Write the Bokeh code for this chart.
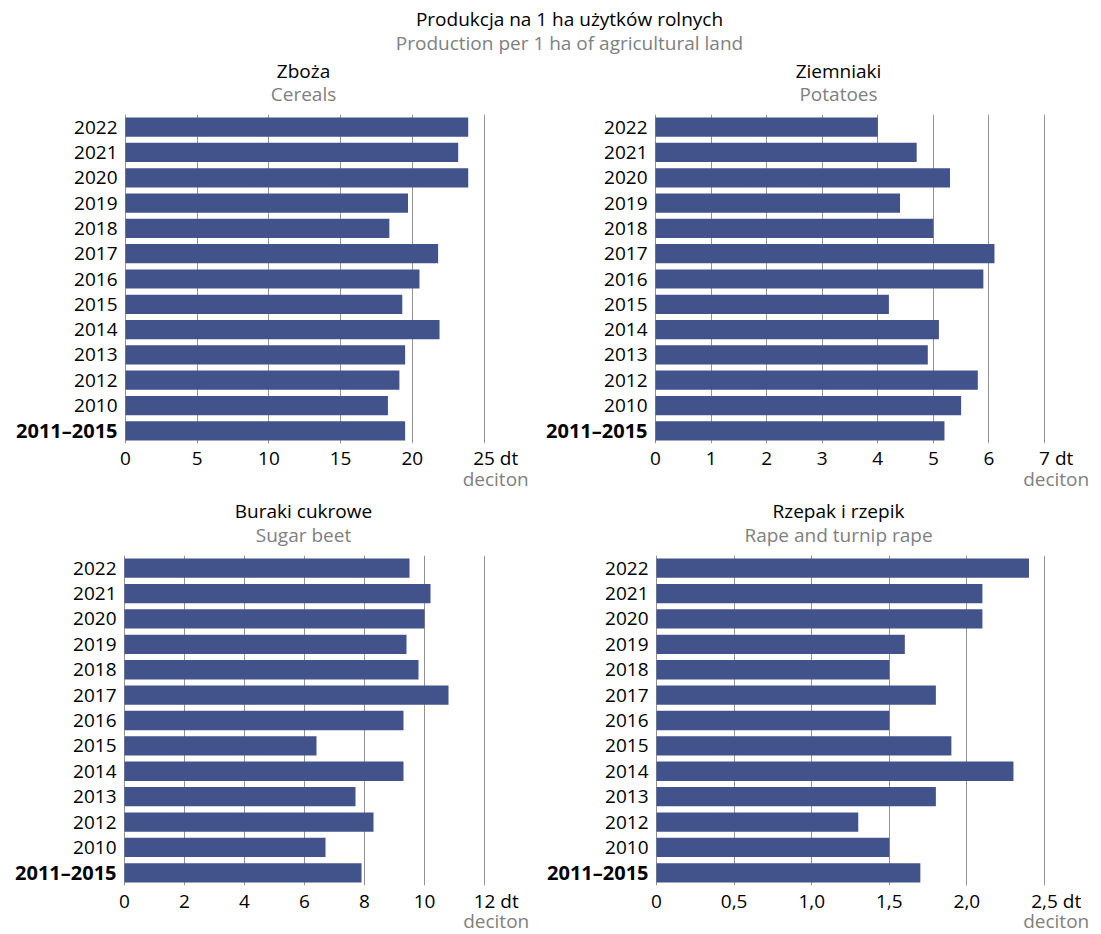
from bokeh.plotting import figure
from bokeh.models import Range1d, FixedTicker, LinearAxis, Grid, ColumnDataSource
from bokeh.core.properties import value
from bokeh.layouts import column, row
from bokeh.embed import file_html
from bokeh.resources import INLINE

# ---------------- data ----------------
categories = ["2022", "2021", "2020", "2019", "2018", "2017", "2016",
              "2015", "2014", "2013", "2012", "2010", "2011–2015"]

cereals = [23.9, 23.2, 23.9, 19.7, 18.4, 21.8, 20.5, 19.3, 21.9, 19.5, 19.1, 18.3, 19.5]
potatoes = [4.0, 4.7, 5.3, 4.4, 5.0, 6.1, 5.9, 4.2, 5.1, 4.9, 5.8, 5.5, 5.2]
sugar_beet = [9.5, 10.2, 10.0, 9.4, 9.8, 10.8, 9.3, 6.4, 9.3, 7.7, 8.3, 6.7, 7.9]
rape = [2.4, 2.1, 2.1, 1.6, 1.5, 1.8, 1.5, 1.9, 2.3, 1.8, 1.3, 1.5, 1.7]

cereal_ticks = [0, 5, 10, 15, 20, 25]
cereal_tick_labels = ["0", "5", "10", "15", "20", "25 dt"]
potato_ticks = [0, 1, 2, 3, 4, 5, 6, 7]
potato_tick_labels = ["0", "1", "2", "3", "4", "5", "6", "7 dt"]
beet_ticks = [0, 2, 4, 6, 8, 10, 12]
beet_tick_labels = ["0", "2", "4", "6", "8", "10", "12 dt"]
rape_ticks = [0, 0.5, 1.0, 1.5, 2.0, 2.5]
rape_tick_labels = ["0", "0,5", "1,0", "1,5", "2,0", "2,5 dt"]

unit_label = "deciton"
main_title_pl = "Produkcja na 1 ha użytków rolnych"
main_title_en = "Production per 1 ha of agricultural land"

# ---------------- style ----------------
FONT = "Open Sans"
FS = "19px"
BAR = "#42528b"
GRID = "#929292"
GREY_TXT = "#808080"


def bare_axis(ticks, overrides, standoff, color):
    ax = LinearAxis(ticker=FixedTicker(ticks=ticks, minor_ticks=[]),
                    major_label_overrides=overrides)
    ax.axis_line_color = None
    ax.major_tick_line_color = None
    ax.minor_tick_line_color = None
    ax.major_tick_out = 0
    ax.major_tick_in = 0
    ax.minor_tick_out = 0
    ax.major_label_standoff = standoff
    ax.major_label_text_font = FONT
    ax.major_label_text_font_size = FS
    ax.major_label_text_color = color
    return ax


def panel(values, ticks, tick_labels, title_pl, title_en,
          col_x, col_w, zero_px, unit_px, frame_l, frame_r, title_c,
          top_b, frame_h, bottom_b, s_en, s_pl, s_tick, s_unit):
    n = len(categories)
    pos = [n - 1 - i for i in range(n)]
    x0 = (frame_l - zero_px) / unit_px
    x1 = (frame_r - zero_px) / unit_px
    p = figure(frame_width=frame_r - frame_l, frame_height=frame_h,
               x_range=Range1d(x0, x1), y_range=Range1d(-0.5, n - 0.5),
               toolbar_location=None, output_backend="svg", title=None,
               x_axis_location=None, y_axis_location=None,
               min_border_left=frame_l - col_x,
               min_border_right=col_x + col_w - frame_r,
               min_border_top=top_b, min_border_bottom=bottom_b)
    p.outline_line_color = None
    p.xgrid.visible = False
    p.ygrid.visible = False

    # vertical grid lines (incl. the zero line)
    p.add_layout(Grid(dimension=0, ticker=FixedTicker(ticks=ticks),
                      grid_line_color=GRID, grid_line_width=1))

    p.hbar(y=pos, left=0, right=values, height=0.76,
           fill_color=BAR, line_color=None)

    # category labels (last one bold)
    src = ColumnDataSource(dict(
        y=pos, label=categories,
        fstyle=["normal"] * (n - 1) + ["bold"],
        fsize=["19px"] * (n - 1) + ["20px"]))
    p.text(x=0, y="y", text="label", source=src, x_offset=-8,
           text_align="right", text_baseline="middle",
           text_font=value(FONT), text_font_size="fsize",
           text_font_style="fstyle", text_color="black")

    # x axis, unit attached to the last tick, "deciton" below it
    unit_pos = round(ticks[-1] + 11.7 / unit_px, 4)
    ov = {t: lab for t, lab in zip(ticks[:-1], tick_labels[:-1])}
    ov[unit_pos] = tick_labels[-1]
    p.add_layout(bare_axis(ticks[:-1] + [unit_pos], ov, s_tick, "black"), "below")
    p.add_layout(bare_axis([unit_pos], {unit_pos: unit_label}, s_unit,
                           GREY_TXT), "below")

    # panel titles
    tc = round((title_c - zero_px) / unit_px, 4)
    p.add_layout(bare_axis([tc], {tc: title_en}, s_en, GREY_TXT), "above")
    p.add_layout(bare_axis([tc], {tc: title_pl}, s_pl, "black"), "above")
    return p


LEFT_X, LEFT_W = 0, 530
RIGHT_X, RIGHT_W = 530, 571

top_args = dict(top_b=58, frame_h=329, bottom_b=50, s_en=8, s_pl=-6, s_tick=1, s_unit=-8)
bot_args = dict(top_b=56, frame_h=330, bottom_b=45, s_en=8, s_pl=-5, s_tick=2, s_unit=-9)

p1 = panel(cereals, cereal_ticks, cereal_tick_labels, "Zboża", "Cereals",
           LEFT_X, LEFT_W, 125, 14.34, 4, 512, 303, **top_args)
p2 = panel(potatoes, potato_ticks, potato_tick_labels, "Ziemniaki", "Potatoes",
           RIGHT_X, RIGHT_W, 655, 55.57, 535, 1072, 838, **top_args)
p3 = panel(sugar_beet, beet_ticks, beet_tick_labels, "Buraki cukrowe", "Sugar beet",
           LEFT_X, LEFT_W, 124, 30.0, 4, 512, 303, **bot_args)
p4 = panel(rape, rape_ticks, rape_tick_labels, "Rzepak i rzepik", "Rape and turnip rape",
           RIGHT_X, RIGHT_W, 656, 155.2, 535, 1072, 838, **bot_args)

# main title (centred labels on hidden axes of a thin header figure)
TITLE_C = 569
t = figure(frame_width=1101, frame_height=1, x_range=Range1d(0, 1101),
           y_range=Range1d(0, 1), toolbar_location=None, output_backend="svg",
           title=None, x_axis_location=None, y_axis_location=None,
           min_border_left=0, min_border_right=0, min_border_top=53,
           min_border_bottom=0)
t.outline_line_color = None
t.xgrid.visible = False
t.ygrid.visible = False
t.add_layout(bare_axis([TITLE_C], {TITLE_C: main_title_en}, -2, GREY_TXT), "above")
t.add_layout(bare_axis([TITLE_C], {TITLE_C: main_title_pl}, -5, "black"), "above")

layout = column(t, row(p1, p2), row(p3, p4))

open("out.html", "w").write(file_html(layout, INLINE))
